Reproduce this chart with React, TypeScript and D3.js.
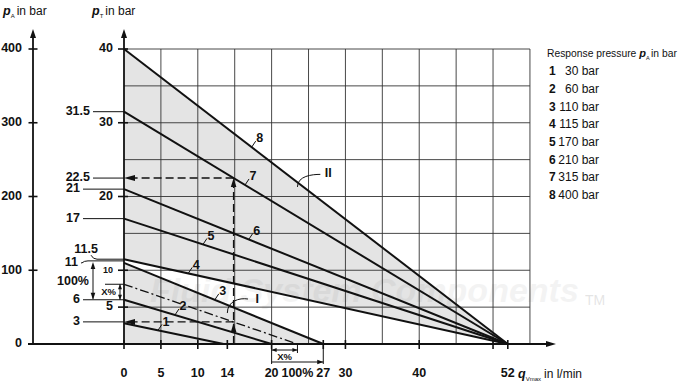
import React from 'react';
import * as d3 from 'd3';

// ---------- data ----------
const curveIds = ['1', '2', '3', '4', '5', '6', '7', '8'];
const responsePressures = [30, 60, 110, 115, 170, 210, 315, 400];
const curveStartPT = [2.8, 6, 11, 11.5, 17, 21, 31.5, 40]; // pT at q = 0
const curveEndQ = [13.5, 20, 27, 52, 52, 52, 52, 52]; // q where pT = 0
const curveLabelQ = [4.6, 6.9, 12.3, 8.7, 10.7, 16.9, 16.4, 17.3];

const interpStartPT = 8.1; // X% line (dash-dot)
const interpEndQ = 23.5;
const exampleQ = 14.85;
const exampleReadPT = [22.5, 3];

const pATicks = [0, 100, 200, 300, 400];
const pTTickLabels = [20, 30, 40];
const pTTicks = [5, 10, 20, 30, 40];
const qTicks = [0, 5, 10, 14, 20, 27, 30, 40, 50, 52];
const qTickLabels = ['0', '5', '10', '14', '20', '27', '30', '40', '52'];
const leftCallouts = [31.5, 22.5, 21, 17, 11.5, 11, 6, 3];

const FONT = "'Liberation Sans', Arial, sans-serif";

function arrowPath(x: number, y: number, dir: string, len = 7, half = 2.6) {
  if (dir === 'up') return `M${x},${y}L${x - half},${y + len}L${x + half},${y + len}Z`;
  if (dir === 'down') return `M${x},${y}L${x - half},${y - len}L${x + half},${y - len}Z`;
  if (dir === 'left') return `M${x},${y}L${x + len},${y - half}L${x + len},${y + half}Z`;
  return `M${x},${y}L${x - len},${y - half}L${x - len},${y + half}Z`;
}

export default function App() {
  const x = d3.scaleLinear().domain([0, 52]).range([124, 507.8]);
  const y = d3.scaleLinear().domain([0, 40]).range([344, 49]);
  const yA = d3.scaleLinear().domain([0, 400]).range([344, 49]);
  const line = d3.line<[number, number]>().x(d => x(d[0])).y(d => y(d[1]));

  const gridQ = d3.range(5, 56, 5);
  const gridP = d3.range(5, 41, 5);

  const pAt = (i: number, q: number) => curveStartPT[i] * (1 - q / curveEndQ[i]);

  const regionI: [number, number][] = [[0, 0], [0, curveStartPT[2]], [curveEndQ[2], 0]];
  const regionII: [number, number][] = [[0, curveStartPT[3]], [0, curveStartPT[7]], [52, 0]];

  const calloutTextEnd: Record<string, number> = { '31.5': 90, '22.5': 90, '21': 80, '17': 80, '11.5': 98, '11': 78, '6': 80, '3': 80 };

  const xAxisY = y(0);
  const bold = { fontFamily: FONT, fontWeight: 700, fontSize: 12.5, fill: '#111' } as any;

  return (
    <svg width={680} height={387} style={{ position: 'absolute', left: 0, top: 0, background: '#fff' }}>
      {/* shaded regions */}
      <path d={line(regionI)! + 'Z'} fill="#e4e4e4" />
      <path d={line(regionII)! + 'Z'} fill="#e4e4e4" />

      {/* watermark */}
      <text x={150} y={302} fontFamily={FONT} fontStyle="italic" fontWeight={700}
        fontSize={34} fill="#000" opacity={0.045}>Fluid System Components</text>
      <text x={585} y={305} fontFamily={FONT} fontSize={14} fill="#000" opacity={0.1}>TM</text>

      {/* grid */}
      <g stroke="#333" strokeWidth={0.9}>
        {gridQ.map(q => <line key={'gq' + q} x1={x(q)} x2={x(q)} y1={y(0)} y2={y(40)} />)}
        {gridP.map(p => <line key={'gp' + p} x1={x(0)} x2={x(55)} y1={y(p)} y2={y(p)} />)}
      </g>

      {/* curves */}
      <g stroke="#111" strokeWidth={2} fill="none">
        {curveIds.map((id, i) => (
          <path key={id} d={line([[0, curveStartPT[i]], [curveEndQ[i], 0]])!} />
        ))}
        <path d={line([[0, interpStartPT], [interpEndQ, 0]])!} strokeWidth={1.3} strokeDasharray="9,3,2,3" />
      </g>

      {/* curve labels */}
      {curveIds.map((id, i) => {
        const q = curveLabelQ[i];
        const px = x(q), py = y(pAt(i, q));
        return (
          <g key={'lab' + id}>
            <line x1={px} y1={py} x2={px + 4} y2={py - 6} stroke="#111" strokeWidth={1} />
            <text x={px + 8} y={py - 8} textAnchor="middle" dominantBaseline="middle" {...bold}>{id}</text>
          </g>
        );
      })}

      {/* region labels */}
      <path d={`M${x(14.0)},${y(4.2)} C${x(14.0)},${y(5.8)} ${x(15.6)},${y(6.3)} ${x(16.8)},${y(6.1)}`} stroke="#111" strokeWidth={1} fill="none" />
      <text x={x(17.8)} y={y(6.0)} dominantBaseline="middle" {...bold}>I</text>
      <path d={`M${x(23.5)},${y(21.3)} C${x(23.5)},${y(22.8)} ${x(25.5)},${y(23.0)} ${x(26.6)},${y(23.0)}`} stroke="#111" strokeWidth={1} fill="none" />
      <text x={x(27.2)} y={y(23.1)} dominantBaseline="middle" {...bold}>II</text>

      {/* example dashed construction */}
      <g stroke="#111" strokeWidth={1.4} strokeDasharray="8,4" fill="none">
        <line x1={x(exampleQ)} x2={x(exampleQ)} y1={xAxisY} y2={y(exampleReadPT[0]) + 6} />
        <line x1={x(exampleQ)} x2={x(0) + 6} y1={y(exampleReadPT[0])} y2={y(exampleReadPT[0])} />
        <line x1={x(exampleQ)} x2={x(0) + 6} y1={y(exampleReadPT[1])} y2={y(exampleReadPT[1])} />
      </g>
      <path d={arrowPath(x(exampleQ), y(exampleReadPT[0]), 'up', 9, 2.8)} fill="#111" />
      <path d={arrowPath(x(0), y(exampleReadPT[0]), 'left', 11, 3)} fill="#111" />
      <path d={arrowPath(x(exampleQ), y(exampleReadPT[1]) + 1, 'up', 9, 2.8)} fill="#111" />
      <path d={arrowPath(x(0), y(exampleReadPT[1]), 'left', 11, 3)} fill="#111" />

      {/* left pA axis */}
      <line x1={33} x2={33} y1={yA(0)} y2={34} stroke="#111" strokeWidth={1.8} />
      <path d={arrowPath(33, 29, 'up', 9, 3)} fill="#111" />
      {pATicks.map(v => (
        <g key={'pa' + v}>
          <line x1={28.5} x2={37.5} y1={yA(v)} y2={yA(v)} stroke="#111" strokeWidth={1.6} />
          <text x={22} y={yA(v)} textAnchor="end" dominantBaseline="middle" {...bold}>{v}</text>
        </g>
      ))}

      {/* pT axis */}
      <line x1={x(0)} x2={x(0)} y1={y(0)} y2={34} stroke="#111" strokeWidth={1.8} />
      <path d={arrowPath(x(0), 29, 'up', 9, 3)} fill="#111" />
      {pTTicks.map(v => (
        <line key={'pt' + v} x1={x(0) - 6} x2={x(0) + 4} y1={y(v)} y2={y(v)} stroke="#111" strokeWidth={1.6} />
      ))}
      {pTTickLabels.map(v => (
        <text key={'ptl' + v} x={113} y={y(v)} textAnchor="end" dominantBaseline="middle" {...bold}>{v}</text>
      ))}
      <text x={113} y={y(10)} textAnchor="end" dominantBaseline="middle" {...bold} fontSize={9}>10</text>
      <text x={113} y={y(5)} textAnchor="end" dominantBaseline="middle" {...bold}>5</text>

      {/* left callouts */}
      {leftCallouts.map(v => {
        const k = String(v);
        const te = calloutTextEnd[k];
        const ly = y(v);
        const ty = v === 11.5 ? ly - 9 : ly;
        return (
          <g key={'co' + k}>
            {v === 11.5 ? (
              <path d={`M${91},${ty + 5} Q${93},${ly} ${97},${ly} L${x(0)},${ly}`} stroke="#111" strokeWidth={1} fill="none" />
            ) : v === 11 ? (
              <path d={`M${te + 3},${ly} L${82},${ly} Q${84},${ly - 2} ${88},${ly - 2} L${x(0)},${ly - 2}`} stroke="#111" strokeWidth={1} fill="none" />
            ) : (
              <line x1={te + 3} x2={x(0)} y1={ly} y2={ly} stroke="#111" strokeWidth={1} />
            )}
            <text x={te} y={ty} textAnchor="end" dominantBaseline="middle" {...bold}>{k}</text>
          </g>
        );
      })}

      {/* left brackets: 100% and X% */}
      <line x1={93} x2={93} y1={y(11) + 3} y2={y(6) - 1} stroke="#111" strokeWidth={1} />
      <path d={arrowPath(93, y(11) - 1, 'up', 7, 2.3)} fill="#111" />
      <path d={arrowPath(93, y(6), 'down', 7, 2.3)} fill="#111" />
      <text x={89} y={y(8.5)} textAnchor="end" dominantBaseline="middle" {...bold}>100%</text>
      <line x1={105} x2={x(0)} y1={y(interpStartPT)} y2={y(interpStartPT)} stroke="#111" strokeWidth={1} />
      <line x1={120} x2={120} y1={y(interpStartPT)} y2={y(6)} stroke="#111" strokeWidth={1} />
      <path d={arrowPath(120, y(interpStartPT), 'up', 5, 2)} fill="#111" />
      <path d={arrowPath(120, y(6), 'down', 5, 2)} fill="#111" />
      <text x={116} y={y(7.05)} textAnchor="end" dominantBaseline="middle" {...bold} fontSize={9.5}>X%</text>

      {/* x axis */}
      <line x1={28} x2={548} y1={xAxisY} y2={xAxisY} stroke="#111" strokeWidth={1.8} />
      <path d={arrowPath(556, xAxisY, 'right', 10, 3)} fill="#111" />
      {qTicks.map(q => (
        <line key={'qt' + q} x1={x(q)} x2={x(q)} y1={xAxisY - 4} y2={xAxisY + 5} stroke="#111" strokeWidth={1.6} />
      ))}
      {qTickLabels.map(l => (
        <text key={'ql' + l} x={x(+l)} y={374} textAnchor="middle" dominantBaseline="middle" {...bold}>{l}</text>
      ))}
      <text x={x(interpEndQ)} y={374} textAnchor="middle" dominantBaseline="middle" {...bold}>100%</text>
      <text x={518} y={378} fontFamily={FONT} fontSize={12} fill="#111">
        <tspan fontWeight={700} fontStyle="italic" fontSize={12.5}>q</tspan>
        <tspan fontSize={6} dy={2.5}>Vmax</tspan>
        <tspan dy={-2.5} dx={3}>in l/min</tspan>
      </text>

      {/* bottom brackets */}
      <g stroke="#111" strokeWidth={1} fill="none">
        <line x1={x(20)} x2={x(20)} y1={xAxisY} y2={364} />
        <line x1={x(interpEndQ)} x2={x(interpEndQ)} y1={xAxisY} y2={353} />
        <line x1={x(27)} x2={x(27)} y1={xAxisY} y2={364} />
        <line x1={x(20)} x2={x(interpEndQ)} y1={350} y2={350} />
        <line x1={x(20)} x2={x(27)} y1={362} y2={362} />
      </g>
      <path d={arrowPath(x(20), 350, 'left', 5, 2)} fill="#111" />
      <path d={arrowPath(x(interpEndQ), 350, 'right', 5, 2)} fill="#111" />
      <path d={arrowPath(x(27), 362, 'right', 6, 2.2)} fill="#111" />
      <text x={(x(20) + x(interpEndQ)) / 2} y={357} textAnchor="middle" dominantBaseline="middle" {...bold} fontSize={9.5}>X%</text>

      {/* axis titles */}
      <text x={3} y={15} fontFamily={FONT} fontSize={12} fill="#111">
        <tspan fontWeight={700} fontStyle="italic" fontSize={12.5}>p</tspan>
        <tspan fontSize={6} dy={2.5}>A</tspan>
        <tspan dy={-2.5} dx={2}>in bar</tspan>
      </text>
      <text x={92} y={15} fontFamily={FONT} fontSize={12} fill="#111">
        <tspan fontWeight={700} fontStyle="italic" fontSize={12.5}>p</tspan>
        <tspan fontSize={6} dy={2.5}>T</tspan>
        <tspan dy={-2.5} dx={2}>in bar</tspan>
      </text>

      {/* legend */}
      <text x={547} y={57} fontFamily={FONT} fontSize={10.3} fill="#111">
        <tspan>Response pressure </tspan>
        <tspan fontWeight={700} fontStyle="italic" fontSize={11}>p</tspan>
        <tspan fontSize={5.5} dy={2.5}>A</tspan>
        <tspan dy={-2.5} dx={1.5}>in bar</tspan>
      </text>
      {curveIds.map((id, i) => (
        <g key={'lg' + id}>
          <text x={549} y={72 + i * 17.7} dominantBaseline="middle" {...bold} fontSize={12}>{id}</text>
          <text x={599} y={72 + i * 17.7} textAnchor="end" dominantBaseline="middle" fontFamily={FONT} fontSize={12} fill="#111">{responsePressures[i]} bar</text>
        </g>
      ))}
    </svg>
  );
}
